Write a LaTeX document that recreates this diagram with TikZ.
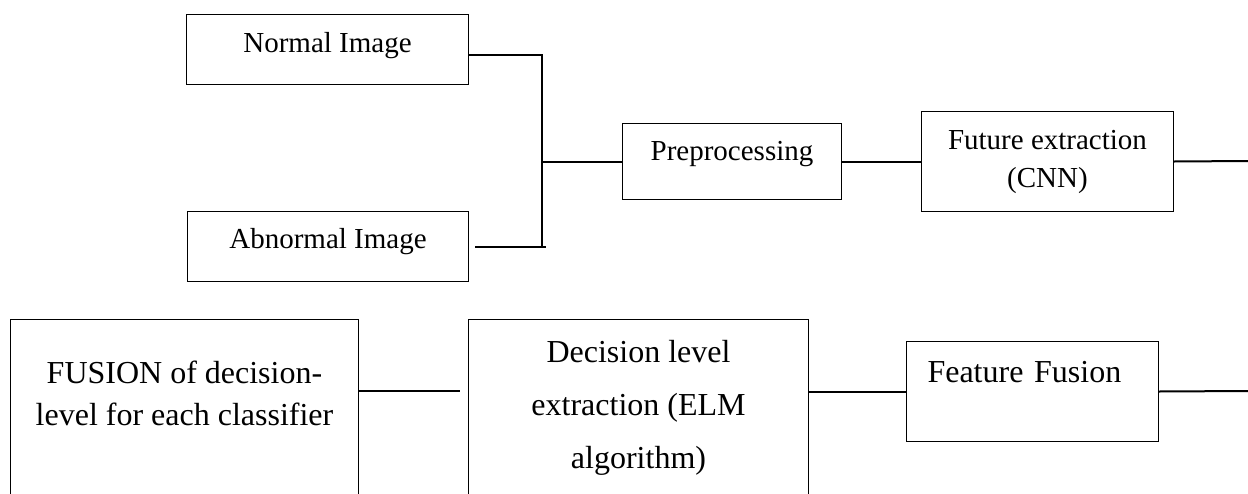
\documentclass[tikz,border=0pt]{standalone}
\usepackage{fontspec}
\setmainfont{Liberation Serif}
\usetikzlibrary{calc}

\begin{document}
\begin{tikzpicture}[x=0.5pt,y=-0.5pt,semithick]
  \tikzstyle{blk}=[draw,line width=0.5pt,inner sep=0pt,anchor=north west,align=center,font=\fontsize{14.5}{19}\selectfont]
  \tikzstyle{low}=[font=\fontsize{16}{21}\selectfont]
  \tikzstyle{link}=[line width=1pt]
  \useasboundingbox (0,0) rectangle (1248,493);

  \node[blk,minimum width=141pt,text height=19pt,text depth=16pt]     (normal)   at (186,14)  {Normal Image};
  \node[blk,minimum width=140.5pt,text height=18.5pt,text depth=16.5pt] (abnormal) at (187,211) {Abnormal Image};
  \node[blk,minimum width=109.5pt,text height=18.5pt,text depth=19.5pt] (prep)     at (622,123) {Preprocessing};
  \node[blk,minimum width=126pt,text height=38pt,text depth=12pt]     (fut)      at (921,111) {Future extraction\\(CNN)};
  \node[blk,low,minimum width=174pt,text height=53pt,text depth=47.5pt] (fusion)   at (10,319)  {FUSION of decision-\\level for each classifier};
  \node[blk,low,font=\fontsize{16}{26.5}\selectfont,minimum width=170pt,text height=74.5pt,text depth=26pt] (decision) at (468,319) {Decision level\\extraction (ELM\\algorithm)};
  \node[blk,low,inner xsep=10.5pt,text width=105pt,align=left,text height=20.5pt,text depth=29.5pt] (feature) at (906,341) {Feature Fusion};

  \coordinate (jt)   at (542,55);
  \coordinate (jb)   at (546,247);
  \coordinate (outa) at (1248,161);
  \coordinate (outb) at (1248,391);

  \draw[link] (normal.east |- jt) -- (jt) -- (jt |- jb);
  \draw[link,shorten <=3pt] (abnormal.east |- jb) -- (jb);
  \draw[link] (jt |- prep.west) -- (prep.west);
  \draw[link] (prep) -- (fut);
  \draw[link] (fut.east) -- (outa);
  \draw[link,shorten >=4pt] ($(fusion.north east)+(0,72)$) -- ($(decision.north west)+(0,72)$);
  \draw[link] (decision.east |- feature.west) -- (feature.west);
  \draw[link] (feature.east) -- (outb);
\end{tikzpicture}
\end{document}
